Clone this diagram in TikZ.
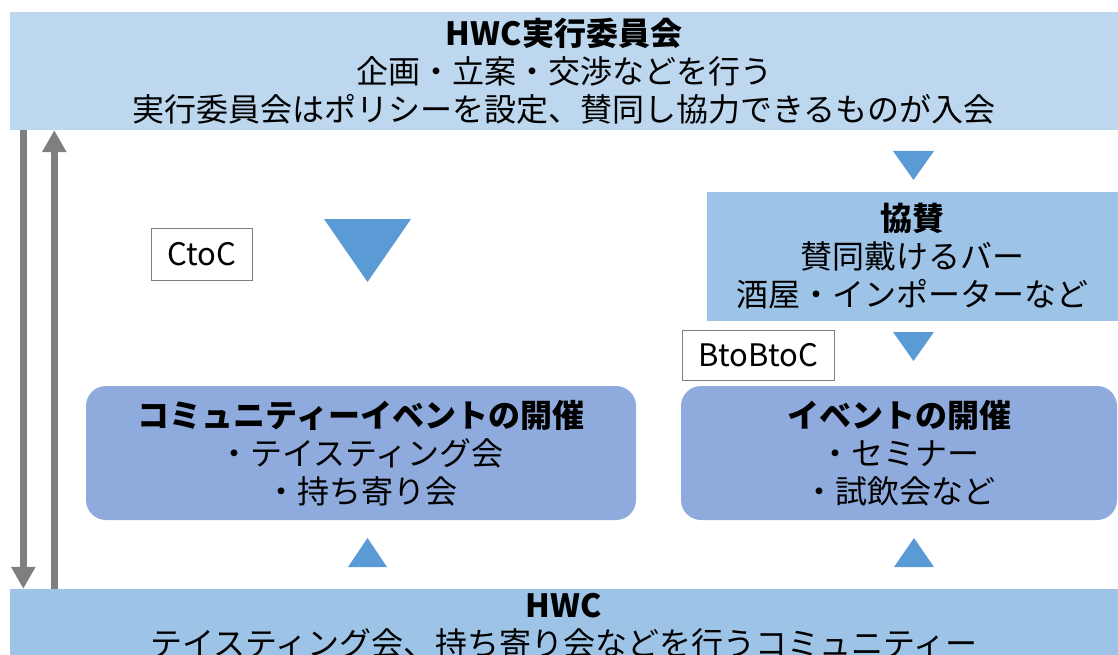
\documentclass[tikz,border=0pt]{standalone}
\usepackage{fontspec}
\setmainfont{Noto Sans CJK JP}
\usetikzlibrary{arrows.meta}
\definecolor{bandlight}{HTML}{BDD7EE}
\definecolor{bandmid}{HTML}{9DC3E6}
\definecolor{eventblue}{HTML}{8FAADC}
\definecolor{triblue}{HTML}{5B9BD5}
\definecolor{arrowgray}{HTML}{7F7F7F}

\begin{document}
\begin{tikzpicture}[x=1pt, y=-1pt,
  band/.style={fill=#1, inner sep=0pt, align=center, font=\fontsize{32}{38}\selectfont},
  eventbox/.style={band=eventblue, rounded corners=20pt},
  tagbox/.style={draw=arrowgray, fill=white, inner sep=0pt, font=\fontsize{31}{36}\selectfont},
  tri/.style={fill=triblue},
  flow/.style={draw=arrowgray, line width=7pt, -{Triangle[width=23pt,length=22pt]}}]
\useasboundingbox (0,0) rectangle (1118,655);
% bands
\node[band=bandlight, minimum width=1108pt, minimum height=118pt] (exec) at (564,71)
  {\textbf{HWC実行委員会}\\企画・立案・交渉などを行う\\実行委員会はポリシーを設定、賛同し協力できるものが入会};
\node[band=bandmid, minimum width=1108pt, minimum height=74pt] (hwc) at (564,626)
  {\textbf{HWC}\\テイスティング会、持ち寄り会などを行うコミュニティー};
\node[band=bandmid, minimum width=411pt, minimum height=129pt] (sponsor) at (912.5,256)
  {\textbf{協賛}\\賛同戴けるバー\\酒屋・インポーターなど};
% events
\node[eventbox, minimum width=550pt, minimum height=134pt] (ctocevent) at (361,453)
  {\textbf{コミュニティーイベントの開催}\\・テイスティング会\\・持ち寄り会};
\node[eventbox, minimum width=436pt, minimum height=134pt] (btobevent) at (899,453)
  {\textbf{イベントの開催}\\・セミナー\\・試飲会など};
% tags
\node[tagbox, minimum width=101pt, minimum height=52pt] (ctoc) at (201.5,254) {CtoC};
\node[tagbox, minimum width=152pt, minimum height=50pt] (btobtoc) at (758,355) {BtoBtoC};
% triangles
\fill[tri] (324,219) -- (411,219) -- (367.5,282) -- cycle;
\fill[tri] (893,151) -- (934,151) -- (913.5,180) -- cycle;
\fill[tri] (893,332) -- (934,332) -- (913.5,361) -- cycle;
\fill[tri] (348,567) -- (387,567) -- (367.5,538) -- cycle;
\fill[tri] (894,567) -- (934,567) -- (914,538) -- cycle;
% arrows
\draw[flow] ([xshift=13.5pt]exec.south west) -- ([xshift=13.5pt]hwc.north west);
\draw[flow] ([xshift=44.5pt]hwc.north west) -- ([xshift=44.5pt]exec.south west);
\end{tikzpicture}
\end{document}
